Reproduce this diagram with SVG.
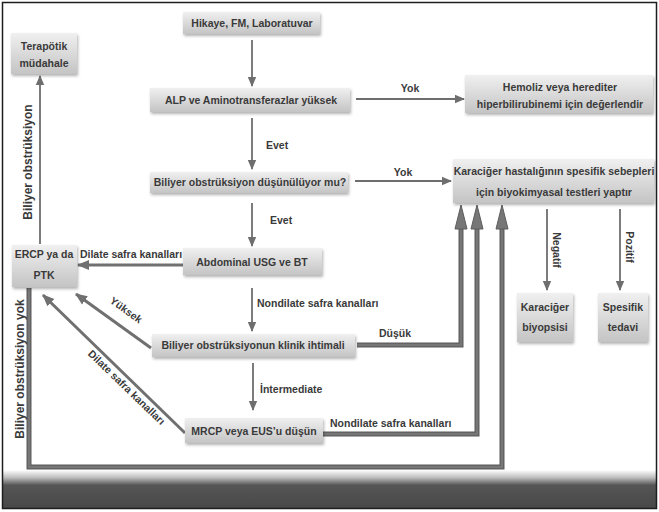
<svg xmlns="http://www.w3.org/2000/svg" width="659" height="512" viewBox="0 0 659 512">
<defs>
<linearGradient id="boxg" x1="0" y1="0" x2="0" y2="1">
<stop offset="0" stop-color="#f0f0f0"/>
<stop offset="1" stop-color="#c4c4c4"/>
</linearGradient>
<linearGradient id="bandg" x1="0" y1="0" x2="0" y2="1">
<stop offset="0" stop-color="#ffffff"/>
<stop offset="0.2" stop-color="#bdbdbd"/>
<stop offset="0.4" stop-color="#555555"/>
<stop offset="1" stop-color="#484848"/>
</linearGradient>
<filter id="sh" x="-10%" y="-20%" width="125%" height="150%">
<feDropShadow dx="1" dy="2" stdDeviation="1.5" flood-color="#000" flood-opacity="0.3"/>
</filter>
<marker id="ah" markerUnits="userSpaceOnUse" markerWidth="10" markerHeight="10" viewBox="0 0 10 10" refX="9" refY="5" orient="auto">
<path d="M0,0.8 L10,5 L0,9.2 Z" fill="#6e6e6e"/>
</marker>
<marker id="ahm" markerUnits="userSpaceOnUse" markerWidth="12" markerHeight="12" viewBox="0 0 12 12" refX="11" refY="6" orient="auto">
<path d="M0,1 L12,6 L0,11 Z" fill="#707070"/>
</marker>
<style>
.box{fill:url(#boxg);filter:url(#sh);}
.t{font-family:"Liberation Sans",Arial,sans-serif;font-weight:bold;font-size:10.5px;fill:#3a3a3a;text-anchor:middle;}
.ts{text-anchor:start;}
.tr{font-size:12px;}
.thin{fill:none;stroke:#6e6e6e;stroke-width:1.8;marker-end:url(#ah);}
.med{fill:none;stroke:#707070;stroke-width:3;marker-end:url(#ahm);}
.thk1{fill:none;stroke:#5c5c5c;stroke-width:5;stroke-linejoin:miter;}
.thk2{fill:none;stroke:#777777;stroke-width:2.5;stroke-linejoin:miter;}
.head{fill:#777777;stroke:#5c5c5c;stroke-width:1;}
</style>
</defs>
<rect x="0" y="0" width="659" height="512" fill="#ffffff"/>
<rect x="2" y="470" width="655" height="38" fill="url(#bandg)"/>
<rect x="2.5" y="2.5" width="654" height="506" fill="none" stroke="#1e1e1e" stroke-width="1.5"/>

<g id="connectors">
<path class="thin" d="M252,40 V86"/>
<path class="thin" d="M356,99 H464"/>
<path class="thin" d="M252,118 V169"/>
<path class="thin" d="M355,181 H451"/>
<path class="thin" d="M252,203 V246"/>
<path class="med" d="M183,265 H78"/>
<path class="thin" d="M40,244 V76"/>
<path class="thin" d="M252,288 V331"/>
<path class="med" d="M151,348 L76,294"/>
<path class="thin" d="M253,363 V410"/>
<path class="med" d="M185,433 L43,295"/>
<path class="thin" d="M547,209 V290"/>
<path class="thin" d="M620,209 V290"/>
<path class="thk1" d="M357,345 H461 V228"/>
<path class="thk2" d="M357,345 H461 V228"/>
<path class="thk1" d="M323,434 H477 V228"/>
<path class="thk2" d="M323,434 H477 V228"/>
<path class="thk1" d="M29,288 V467 H502 V228"/>
<path class="thk2" d="M29,288 V467 H502 V228"/>
<path class="head" d="M461,205 L467,229 L455,229 Z"/>
<path class="head" d="M477,205 L483,229 L471,229 Z"/>
<path class="head" d="M502,205 L508,229 L496,229 Z"/>
<text class="t" x="410" y="92">Yok</text>
<text class="t" x="403" y="176">Yok</text>
<text class="t ts" x="266" y="149">Evet</text>
<text class="t ts" x="270" y="224">Evet</text>
<text class="t" x="131" y="258">Dilate safra kanalları</text>
<text class="t ts" x="257" y="307">Nondilate safra kanalları</text>
<text class="t" x="395" y="337">Düşük</text>
<text class="t ts" x="260" y="393">İntermediate</text>
<text class="t ts" x="330" y="427">Nondilate safra kanalları</text>
<text class="t" transform="translate(124,313) rotate(36)">Yüksek</text>
<text class="t" transform="translate(124,390) rotate(44)">Dilate safra kanalları</text>
<text class="t tr" transform="translate(32,162) rotate(-90)">Biliyer obstrüksiyon</text>
<text class="t tr" transform="translate(24,369) rotate(-90)">Biliyer obstrüksiyon yok</text>
<text class="t" transform="translate(553,250) rotate(90)">Negatif</text>
<text class="t" transform="translate(626,247) rotate(90)">Pozitif</text>
</g>

<g id="n-hikaye">
<rect class="box" x="183" y="12" width="137" height="22"/>
<text class="t" x="252" y="27">Hikaye, FM, Laboratuvar</text>
</g>
<g id="n-terapotik">
<rect class="box" x="11" y="33" width="66" height="41"/>
<text class="t" x="44" y="50">Terapötik</text>
<text class="t" x="44" y="67">müdahale</text>
</g>
<g id="n-alp">
<rect class="box" x="150" y="88" width="200" height="24"/>
<text class="t" x="251" y="104">ALP ve Aminotransferazlar yüksek</text>
</g>
<g id="n-hemoliz">
<rect class="box" x="465" y="75" width="188" height="38"/>
<text class="t" x="560" y="91">Hemoliz veya herediter</text>
<text class="t" x="560" y="108">hiperbilirubinemi için değerlendir</text>
</g>
<g id="n-biliyer">
<rect class="box" x="150" y="172" width="198" height="21"/>
<text class="t" x="250" y="186">Biliyer obstrüksiyon düşünülüyor mu?</text>
</g>
<g id="n-karaciger">
<rect class="box" x="453" y="159" width="201" height="44"/>
<text class="t" x="554" y="175">Karaciğer hastalığının spesifik sebepleri</text>
<text class="t" x="554" y="196">için biyokimyasal testleri yaptır</text>
</g>
<g id="n-abdominal">
<rect class="box" x="183" y="248" width="139" height="27"/>
<text class="t" x="252" y="266">Abdominal USG ve BT</text>
</g>
<g id="n-ercp">
<rect class="box" x="12" y="245" width="65" height="42"/>
<text class="t" x="44" y="258">ERCP ya da</text>
<text class="t" x="44" y="279">PTK</text>
</g>
<g id="n-klinik">
<rect class="box" x="152" y="334" width="203" height="23"/>
<text class="t" x="253" y="349">Biliyer obstrüksiyonun klinik ihtimali</text>
</g>
<g id="n-biyopsi">
<rect class="box" x="517" y="293" width="56" height="49"/>
<text class="t" x="545" y="311">Karaciğer</text>
<text class="t" x="545" y="331">biyopsisi</text>
</g>
<g id="n-tedavi">
<rect class="box" x="598" y="293" width="50" height="49"/>
<text class="t" x="623" y="311">Spesifik</text>
<text class="t" x="623" y="331">tedavi</text>
</g>
<g id="n-mrcp">
<rect class="box" x="185" y="418" width="138" height="25"/>
<text class="t" x="254" y="435">MRCP veya EUS’u düşün</text>
</g>
</svg>
